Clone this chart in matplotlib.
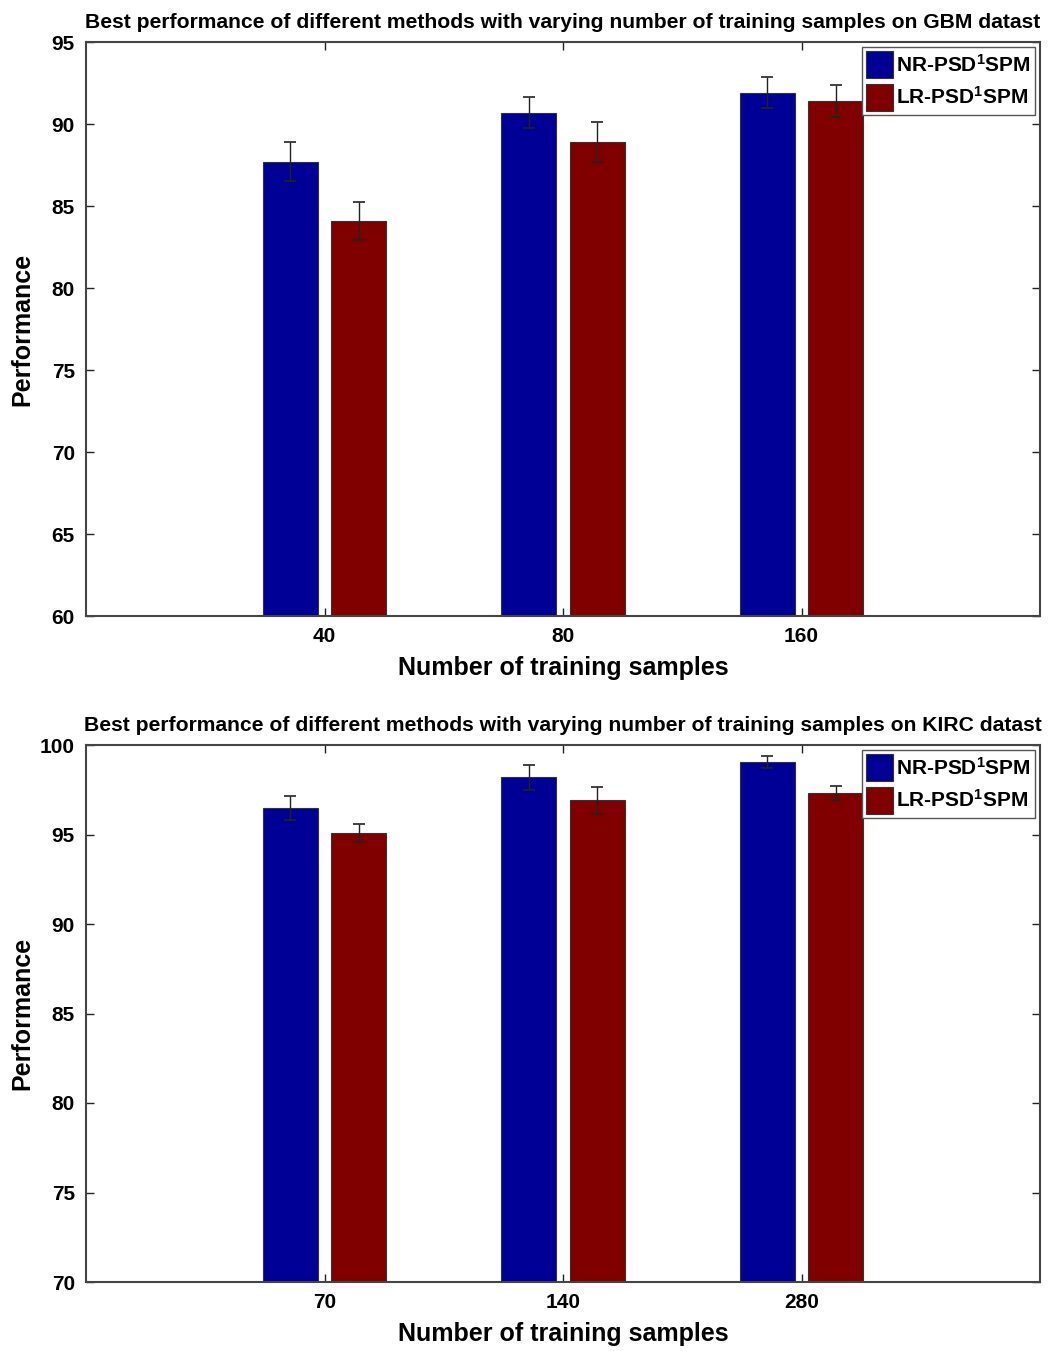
import matplotlib
matplotlib.use("Agg")
import matplotlib.pyplot as plt
import numpy as np

plt.rcParams['font.family'] = ['Liberation Sans', 'DejaVu Sans']
plt.rcParams['font.weight'] = 'bold'
plt.rcParams['mathtext.fontset'] = 'custom'
plt.rcParams['mathtext.rm'] = 'Liberation Sans:bold'
plt.rcParams['mathtext.bf'] = 'Liberation Sans:bold'
plt.rcParams['mathtext.it'] = 'Liberation Sans:bold'

# ---- data ----
series_names = [r"NR-PSD$^{\mathbf{1}}$SPM", r"LR-PSD$^{\mathbf{1}}$SPM"]

gbm_labels = ["40", "80", "160"]
gbm_nr = [87.7, 90.7, 91.9]
gbm_nr_err = [1.2, 0.95, 0.95]
gbm_lr = [84.1, 88.9, 91.4]
gbm_lr_err = [1.15, 1.2, 0.95]

kirc_labels = ["70", "140", "280"]
kirc_nr = [96.5, 98.2, 99.05]
kirc_nr_err = [0.67, 0.7, 0.35]
kirc_lr = [95.1, 96.9, 97.3]
kirc_lr_err = [0.5, 0.75, 0.4]

titles = [
    "Best performance of different methods with varying number of training samples on GBM datast",
    "Best performance of different methods with varying number of training samples on KIRC datast",
]

colors = ['#000096', '#800000']

W, H = 1049, 1351
fig = plt.figure(figsize=(W / 100, H / 100), dpi=100)

def make_axes(top, bottom):
    return fig.add_axes([86 / W, 1 - bottom / H, (1040 - 86) / W, (bottom - top) / H])

ax1 = make_axes(42, 616)
ax2 = make_axes(745, 1282)

def draw(ax, labels, nr, nr_err, lr, lr_err, ylim, yticks, title):
    x = np.arange(1, len(labels) + 1)
    off = 0.143
    w = 0.23
    ekw = dict(ecolor='#222222', elinewidth=1.0, capsize=4, capthick=1.2)
    ax.bar(x - off, nr, w, yerr=nr_err, color=colors[0], edgecolor='#333333',
           linewidth=0.8, error_kw=ekw, label=series_names[0])
    ax.bar(x + off, lr, w, yerr=lr_err, color=colors[1], edgecolor='#333333',
           linewidth=0.8, error_kw=ekw, label=series_names[1])
    ax.set_xlim(0, 4)
    ax.set_ylim(*ylim)
    ax.set_yticks(yticks)
    ax.set_xticks(x)
    ax.set_xticklabels(labels)
    ax.tick_params(direction='in', top=True, right=True, labelsize=15,
                   length=6, width=1, colors='#222222', pad=8)
    for lab in ax.get_xticklabels() + ax.get_yticklabels():
        lab.set_fontweight('bold')
        lab.set_color('black')
    for s in ax.spines.values():
        s.set_linewidth(1.5)
        s.set_color('#444444')
    ax.set_xlabel("Number of training samples", fontsize=18, fontweight='bold', labelpad=7)
    ax.set_ylabel("Performance", fontsize=18, fontweight='bold')
    ax.yaxis.set_label_coords(-52 / 954, 0.5)
    ax.set_title(title, fontsize=15.2, fontweight='bold', pad=10)
    leg = ax.legend(loc='upper right', fontsize=15, handlelength=1.3, handleheight=1.6,
                    handletextpad=0.15, borderpad=0.2, labelspacing=0.28,
                    borderaxespad=0.25, fancybox=False, framealpha=1,
                    edgecolor='#555555')
    for t in leg.get_texts():
        t.set_fontweight('bold')

draw(ax1, gbm_labels, gbm_nr, gbm_nr_err, gbm_lr, gbm_lr_err, (60, 95),
     [60, 65, 70, 75, 80, 85, 90, 95], titles[0])
draw(ax2, kirc_labels, kirc_nr, kirc_nr_err, kirc_lr, kirc_lr_err, (70, 100),
     [70, 75, 80, 85, 90, 95, 100], titles[1])

fig.savefig("out.png", dpi=100)
